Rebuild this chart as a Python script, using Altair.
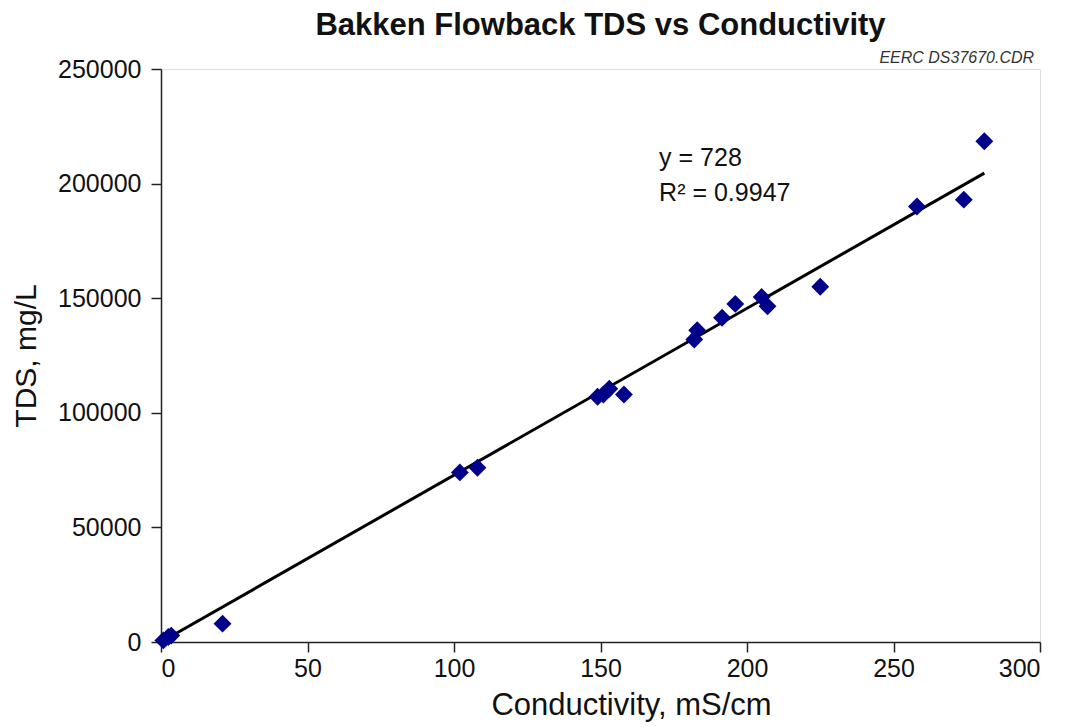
import altair as alt
import pandas as pd

conductivity = [0.8, 2.5, 3.5, 21, 102, 108, 149, 151, 153, 158, 182, 183, 191.5, 196, 205, 207, 225, 258, 274, 281]
tds = [700, 2200, 2800, 8000, 74000, 76000, 107000, 108000, 110500, 108000, 132000, 136000, 141500, 147500, 150500, 146500, 155000, 190000, 193000, 218500]

fit_x = [0, 281]
fit_y = [0, 204568]

ann_x = [170, 170]
ann_y = [211000, 196000]
ann_text = ["y = 728", "R² = 0.9947"]

FONT = "Liberation Sans"

pts = pd.DataFrame({"c": conductivity, "t": tds})
fit = pd.DataFrame({"c": fit_x, "t": fit_y})
ann = pd.DataFrame({"c": ann_x, "t": ann_y, "label": ann_text})
src = pd.DataFrame({"c": [298], "t": [250000], "label": ["EERC DS37670.CDR"]})

xs = alt.Scale(domain=[0, 300], nice=False, zero=False)
ys = alt.Scale(domain=[0, 250000], nice=False, zero=False)

x_axis = alt.Axis(values=[0, 50, 100, 150, 200, 250, 300], format="d", grid=False,
                  title="Conductivity, mS/cm", titleFontSize=31, titleFont=FONT,
                  titleFontWeight="normal", titleColor="#111", titlePadding=9,
                  titleX=470, titleAlign="center",
                  labelFontSize=25, labelFont=FONT, labelColor="#111",
                  tickSize=10, tickColor="#222", domainColor="#222", labelPadding=4,
                  tickWidth=1.5, domainWidth=1.5)
y_axis = alt.Axis(values=[0, 50000, 100000, 150000, 200000, 250000], format="d", grid=False,
                  title="TDS, mg/L", titleFontSize=30, titleFont=FONT,
                  titleFontWeight="normal", titleColor="#111", titlePadding=16,
                  labelFontSize=25, labelFont=FONT, labelColor="#111",
                  tickSize=10, tickColor="#222", domainColor="#222", labelPadding=10,
                  tickWidth=1.5, domainWidth=1.5)

points = alt.Chart(pts).mark_point(shape="diamond", filled=True, size=320, color="#00008B", opacity=1).encode(
    x=alt.X("c:Q", scale=xs, axis=x_axis),
    y=alt.Y("t:Q", scale=ys, axis=y_axis),
)

line = alt.Chart(fit).mark_line(color="#000000", strokeWidth=3).encode(
    x=alt.X("c:Q", scale=xs),
    y=alt.Y("t:Q", scale=ys),
)

annot = alt.Chart(ann).mark_text(align="left", baseline="middle", fontSize=25, font=FONT, color="#111").encode(
    x=alt.X("c:Q", scale=xs),
    y=alt.Y("t:Q", scale=ys),
    text="label:N",
)

source = alt.Chart(src).mark_text(align="right", baseline="alphabetic", dy=-6, fontSize=16,
                                  fontStyle="italic", font=FONT, color="#333").encode(
    x=alt.X("c:Q", scale=xs),
    y=alt.Y("t:Q", scale=ys),
    text="label:N",
)

chart = alt.layer(line, points, annot, source).properties(
    width=879,
    height=573,
    title=alt.TitleParams("Bakken Flowback TDS vs Conductivity", fontSize=31, font=FONT,
                          fontWeight="bold", color="#111", anchor="middle", offset=8),
    autosize=alt.AutoSizeParams(type="none"),
    padding={"left": 153, "top": 61, "right": 20, "bottom": 85},
).configure_view(stroke="#222", strokeWidth=1.5).configure(background="white")

chart.save("out.html", embed_options={"renderer": "svg", "actions": False})
